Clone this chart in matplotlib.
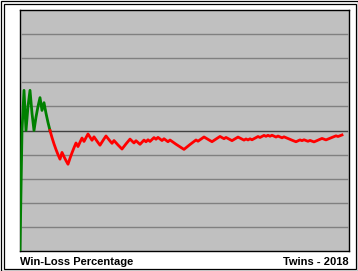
import matplotlib
matplotlib.use("Agg")
import matplotlib.pyplot as plt
from matplotlib.patches import Rectangle
import numpy as np

# Twins 2018 game-by-game results (78-84)
results = ("LWWLWWLLWW" "WLWLLLLLLL" "LWLLLWWWWL" "WWLWWLLWLL"
           "LWWWLLLWLL" "LLWWWWLLWL" "LWWLWLWWLW" "LLWLLWLLLL"
           "LLLWWWWWWL" "WWWLLLLWWW" "WLLWLLLWWW" "LLLWLWLWWW"
           "LWWLWLWLLW" "LLWLLLLLLW" "WLWLLWLLWW" "WWLLWWWWWL"
           "WW")
grid_levels = [0.1, 0.2, 0.3, 0.4, 0.6, 0.7, 0.8, 0.9]
even_level = 0.5
left_label = "Win-Loss Percentage"
right_label = "Twins - 2018"

wins = np.cumsum([1 if r == "W" else 0 for r in results])
games = np.arange(1, len(results) + 1)
pct = wins / games

W, H = 358, 271
fig = plt.figure(figsize=(W / 100, H / 100), dpi=100)
fig.patch.set_facecolor("white")

# plot box in pixels: x 20..349, y 10..251
ax = fig.add_axes([20 / W, 1 - 251 / H, 329 / W, 241 / H])
ax.set_facecolor("#c0c0c0")
ax.set_xlim(1, 165.5)
ax.set_ylim(0, 1)
ax.set_xticks([])
ax.set_yticks([])
for s in ax.spines.values():
    s.set_color("black")
    s.set_linewidth(1.0)

for lv in grid_levels:
    ax.axhline(lv, xmin=0.006, xmax=0.994, color="#808080", lw=1.0, zorder=1)
ax.axhline(even_level, xmin=0.006, xmax=0.994, color="#404040", lw=1.0, zorder=1)

# colour each stretch by whether the record is at/above .500
above = pct >= 0.5
start = 0
for i in range(1, len(pct) + 1):
    if i == len(pct) or above[i] != above[start]:
        seg = slice(max(start - 1, 0), i)
        col = "#008000" if above[start] else "#ff0000"
        ax.plot(games[seg], pct[seg], color=col, lw=2.0,
                solid_joinstyle="round", zorder=3)
        start = i

# double border around the whole picture
def frame(x0, y0, x1, y1):
    fig.add_artist(Rectangle(((x0 + 0.5) / W, 1 - (y1 + 0.5) / H),
                             (x1 - x0) / W, (y1 - y0) / H,
                             transform=fig.transFigure, fill=False,
                             ec="black", lw=0.9))

frame(0, 0, 357, 270)
frame(3, 3, 355, 268)

fig.text(20 / W, 1 - 265 / H, left_label, ha="left", va="baseline",
         fontsize=8, fontweight="bold", family="Liberation Sans", color="black")
fig.text(349 / W, 1 - 265 / H, right_label, ha="right", va="baseline",
         fontsize=8, fontweight="bold", family="Liberation Sans", color="black")

plt.savefig("out.png", dpi=100)
plt.close("all")
